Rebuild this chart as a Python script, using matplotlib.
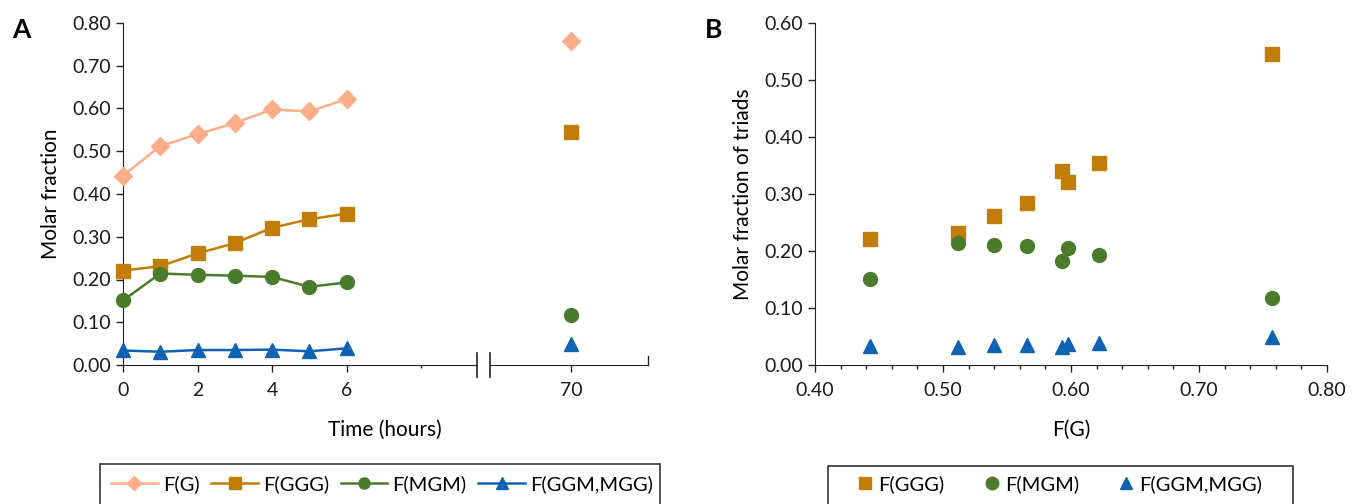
import numpy as np
import matplotlib
matplotlib.use('Agg')
import matplotlib.pyplot as plt
from matplotlib.patches import Rectangle
from matplotlib.lines import Line2D

plt.rcParams['font.family'] = ['Lato', 'DejaVu Sans']
plt.rcParams['font.size'] = 14

# 反應時間 (小時), 最後一點為 70 小時
time_h = [0, 1, 2, 3, 4, 5, 6]
time_late = [70]

# 各時間點的莫耳分率
f_g = [0.443, 0.512, 0.540, 0.566, 0.598, 0.593, 0.622]
f_g_late = [0.757]
f_ggg = [0.221, 0.231, 0.261, 0.285, 0.321, 0.341, 0.354]
f_ggg_late = [0.545]
f_mgm = [0.151, 0.214, 0.211, 0.209, 0.206, 0.183, 0.193]
f_mgm_late = [0.118]
f_ggm = [0.034, 0.031, 0.035, 0.035, 0.036, 0.032, 0.039]
f_ggm_late = [0.049]

names = ['F(G)', 'F(GGG)', 'F(MGM)', 'F(GGM,MGG)']
colors = ['#FDAE88', '#C27D06', '#4A7B2B', '#0F63B2']
markers = ['D', 's', 'o', '^']
msizes = [9, 10, 10, 10]

W, H = 1353, 504
fig = plt.figure(figsize=(W / 100, H / 100), dpi=100)

def fx(px):
    return px / W

def fy(py):
    return 1 - py / H

y0, y1 = fy(365), fy(23)
axL = fig.add_axes([fx(123), y0, fx(477 - 123), y1 - y0])
axR = fig.add_axes([fx(490), y0, fx(648 - 490), y1 - y0])
axB = fig.add_axes([fx(815), y0, fx(1327 - 815), y1 - y0])

early = [f_g, f_ggg, f_mgm, f_ggm]
late = [f_g_late, f_ggg_late, f_mgm_late, f_ggm_late]
for i in range(4):
    axL.plot(time_h, early[i], color=colors[i], marker=markers[i], ms=msizes[i],
             lw=1.8, clip_on=False, zorder=3)
    axR.plot(time_late, late[i], color=colors[i], marker=markers[i], ms=msizes[i],
             lw=0, clip_on=False, zorder=3)

for ax in (axL, axR, axB):
    for s in ('top', 'right'):
        ax.spines[s].set_visible(False)
    ax.spines['left'].set_color('#222222')
    ax.spines['bottom'].set_color('#222222')
    ax.tick_params(colors='#222222', labelcolor='#1a1a1a', length=5, width=1)

axL.set_xlim(0, 9.5)
axL.set_ylim(0, 0.8)
axL.set_xticks([0, 2, 4, 6])
axL.set_xticks([8], minor=True)
axL.tick_params(axis='x', which='minor', length=2, width=1, colors='#222222')
axL.set_yticks(np.arange(0, 0.81, 0.1))
axL.set_yticklabels(['%.2f' % v for v in np.arange(0, 0.81, 0.1)])
axL.tick_params(axis='x', pad=7)
axL.set_ylabel('Molar fraction', fontsize=15, labelpad=8)

axR.set_xlim(67.9, 72)
axR.set_ylim(0, 0.8)
axR.spines['left'].set_visible(False)
axR.set_yticks([])
axR.set_xticks([70])
axR.tick_params(axis='x', pad=7)

# 斷軸記號
for ax, xpos in ((axL, 1), (axR, 0)):
    ax.plot([xpos, xpos], [-0.035, 0.035], transform=ax.transAxes, color='#222222',
            lw=1.2, clip_on=False)
axR.plot([1, 1], [0, 0.025], transform=axR.transAxes, color='#222222', lw=1, clip_on=False)

fig.text(fx(385), fy(430), 'Time (hours)', ha='center', va='center', fontsize=15)

# B: 三元組分率 vs F(G)
for i in range(1, 4):
    axB.plot(f_g + f_g_late, early[i] + late[i], ls='none', color=colors[i],
             marker=markers[i], ms=msizes[i], clip_on=False, zorder=3)
axB.set_xlim(0.4, 0.8)
axB.set_ylim(0, 0.6)
axB.set_xticks(np.arange(0.4, 0.81, 0.1))
axB.set_xticklabels(['%.2f' % v for v in np.arange(0.4, 0.81, 0.1)])
axB.set_xticks(np.arange(0.4, 0.801, 0.02), minor=True)
axB.tick_params(axis='x', which='minor', length=3, width=1, colors='#222222')
axB.set_yticks(np.arange(0, 0.61, 0.1))
axB.set_yticklabels(['%.2f' % v for v in np.arange(0, 0.61, 0.1)])
axB.tick_params(axis='x', pad=7)
axB.set_ylabel('Molar fraction of triads', fontsize=15, labelpad=8)
fig.text(fx(1071), fy(430), 'F(G)', ha='center', va='center', fontsize=15)

fig.text(fx(12), fy(30), 'A', fontsize=19, fontweight='bold', va='center')
fig.text(fx(705), fy(30), 'B', fontsize=19, fontweight='bold', va='center')

# 圖例外框 (底部被裁切)
fig.patches.append(Rectangle((fx(100), -0.05), fx(660 - 100), fy(464) + 0.05,
                             transform=fig.transFigure, fill=False, ec='#333333', lw=1.2))
fig.patches.append(Rectangle((fx(828), -0.05), fx(1293 - 828), fy(466) + 0.05,
                             transform=fig.transFigure, fill=False, ec='#333333', lw=1.2))

hA = [Line2D([], [], color=colors[i], marker=markers[i], ms=msizes[i] - 2, lw=1.8)
      for i in range(4)]
fig.legend(hA, names, loc='center', bbox_to_anchor=(fx(382), fy(484)), ncol=4,
           frameon=False, handlelength=2.3, handletextpad=0.25, columnspacing=0.6,
           fontsize=14.5)
hB = [Line2D([], [], color=colors[i], marker=markers[i], ms=msizes[i] - 1, lw=0)
      for i in range(1, 4)]
fig.legend(hB, names[1:], loc='center', bbox_to_anchor=(fx(1060), fy(484)), ncol=3,
           frameon=False, handlelength=0.7, handletextpad=0.3, columnspacing=2.0,
           fontsize=14.5)

fig.savefig('out.png', dpi=100)
